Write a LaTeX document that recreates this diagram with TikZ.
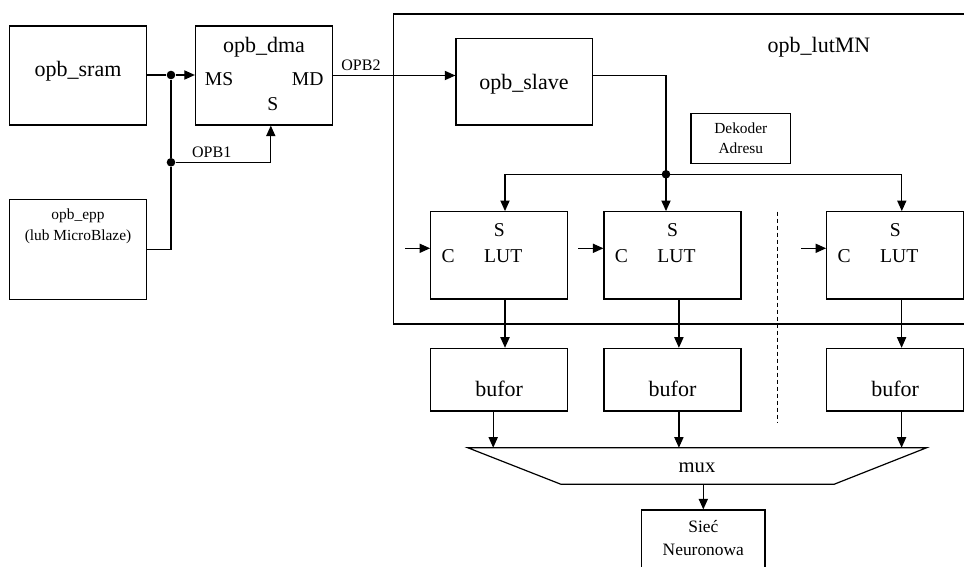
\documentclass[tikz,border=0pt]{standalone}
\usepackage{fontspec}
\setmainfont{Liberation Serif}
\usepackage{tikz}
\usetikzlibrary{arrows.meta, positioning}

\begin{document}
\begin{tikzpicture}[x=0.5pt, y=-0.5pt,
                every node/.style={inner sep=0pt, font=\fontsize{11}{13}\selectfont}, % main labels
                box/.style={draw, line width=0.6pt, minimum width=68.5pt, minimum height=49.5pt}, % unit boxes
                lutbox/.style={box, minimum height=43.6pt},
                bufbox/.style={box, minimum height=31.3pt},
                port/.style={font=\fontsize{9.8}{11}\selectfont}, % port letters
                small/.style={font=\fontsize{7.7}{9.6}\selectfont, align=center},
                bus/.style={font=\fontsize{8}{9}\selectfont}, % bus names
                conn/.style={line width=0.6pt},
                arr/.style={conn, -{Triangle[length=5.3pt, width=4.6pt]}},
                junction/.style={circle, fill, minimum size=4.3pt}
                ]
\useasboundingbox (0,0) rectangle (964,567);
\clip (0,0) rectangle (964,567);

% left part
\node[box] (sram) at (78,75.5) {};
\node (sramtxt) at (78,71) {opb\_sram};
\node[box] (dma) at (264,75.5) {};
\node (dmatxt) at (264,47) {opb\_dma};
\node[port] (ms) at (219,79) {MS};
\node[port] (md) at (307.7,79) {MD};
\node[port] (ds) at (272.7,104) {S};
\node[box, minimum height=50pt] (epp) at (78,249.3) {};
\node[small, font=\fontsize{7.7}{10.3}\selectfont] (epptxt) at (78,226.3) {opb\_epp\\(lub MicroBlaze)};

\node[junction] (j1) at (171,75) {};
\node[junction] (j2) at (171,162.3) {};
\node[bus] (opb1) at (211.7,152.5) {OPB1};
\node[bus] (opb2) at (361,65.4) {OPB2};

% opb_lutMN
\draw[conn] (393.3,14) rectangle (1000,324);
\node (lutmn) at (819,47.5) {opb\_lutMN};
\node[box, minimum width=68.2pt, minimum height=43.4pt] (slave) at (524.2,81.7) {};
\node (slavetxt) at (524,84) {opb\_slave};
\node[draw, line width=0.6pt, minimum width=49.8pt, minimum height=25pt, small] (dek) at (740.8,138.3) {Dekoder\\Adresu};
\coordinate (split) at (666,174.3);
\node[junction] (jsplit) at (split) {};

\foreach \i/\x in {1/499.2, 2/672.5, 3/895.2} {
  \node[lutbox] (lut\i) at (\x,255.3) {};
  \node[port] (s\i) at (\x,230) {S};
  \node[port] (l\i) at (\x+4,256) {LUT};
  \node[port] (c\i) at (\x-51,256) {C};
  \draw[arr] ([shift={(-12.5pt,3.5pt)}]lut\i.west) -- ([yshift=3.5pt]lut\i.west);
  \node[bufbox] (buf\i) at (\x,379.7) {};
  \node (buftxt\i) at (\x,388.5) {bufor};
}
\draw[conn, dash pattern=on 2pt off 1.5pt] (777.7,211.7) -- (777.7,422.7);

% mux and network
\draw[conn] (467.7,447.7) -- (926.7,447.7) -- (834,484.3) -- (561,484.3) -- cycle;
\coordinate (muxtop) at (697,447.7);
\coordinate (muxout) at (703.3,484.3);
\node[font=\fontsize{10.3}{12}\selectfont] (mux) at (697,468) {mux};
\node[draw, line width=0.6pt, minimum width=61.7pt, minimum height=35pt] (siec) at (703.3,545) {};
\node[small, font=\fontsize{8.7}{11.5}\selectfont] (siectxt) at (703.3,538.5) {Sieć\\Neuronowa};

% connections
\draw[conn] (sram.east |- j1) -- (j1);
\draw[arr] (j1) -- (j1 -| dma.west);
\draw[conn] (j1) -- (j2) -- (j2 |- epp.east) -- (epp.east);
\draw[arr] (j2) -| ([xshift=3.4pt]dma.south);
\draw[arr] (dma.east) -- (dma.east -| slave.west);
\draw[conn] (dma.east -| slave.east) -| (split);
\draw[arr] (split) -- (split |- lut2.north);
\draw[arr] (split) -| ([xshift=2.9pt]lut1.north);
\draw[arr] (split) -| ([xshift=3.3pt]lut3.north);
\foreach \i/\s in {1/2.9pt, 2/3.2pt, 3/3.2pt}
  \draw[arr] ([xshift=\s]lut\i.south) -- ([xshift=\s]buf\i.north);
\foreach \i/\s in {1/-3pt, 2/3.2pt, 3/3.2pt} {
  \coordinate (o\i) at ([xshift=\s]buf\i.south);
  \draw[arr] (o\i) -- (o\i |- muxtop);
}
\draw[arr] (muxout) -- (siec.north);
\end{tikzpicture}
\end{document}
